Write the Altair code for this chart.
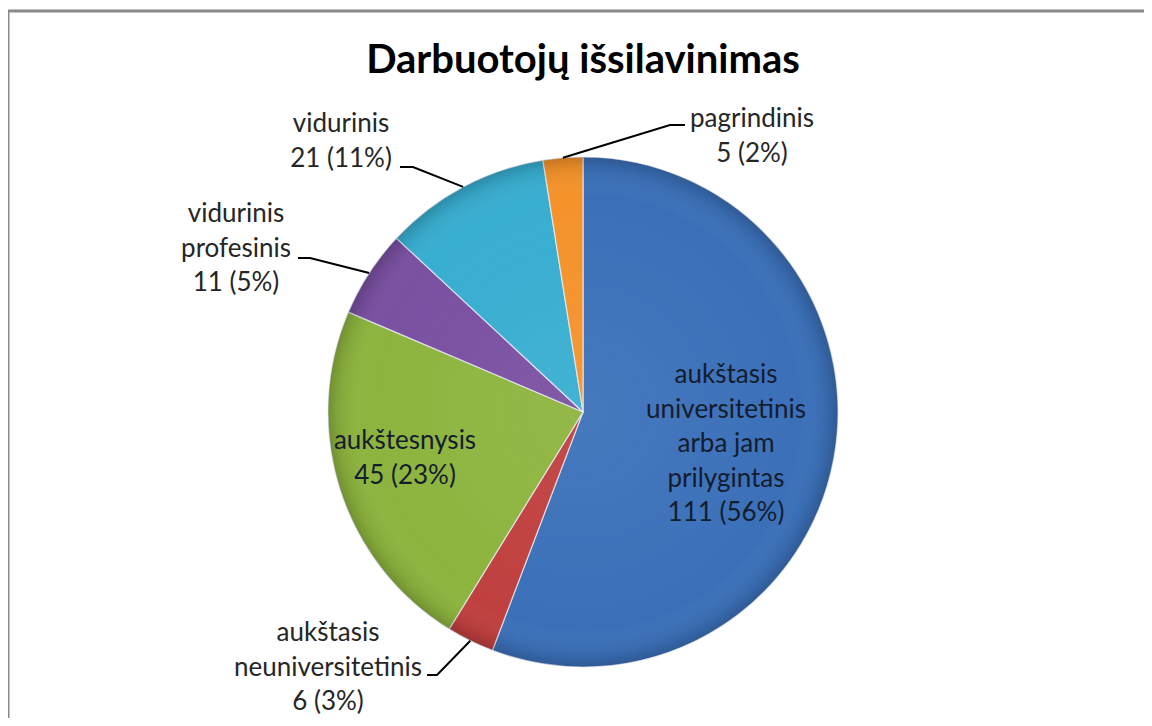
import math
import altair as alt
import pandas as pd

# ---------------- data ----------------
TITLE = "Darbuotojų išsilavinimas"
categories = [
    "aukštasis universitetinis arba jam prilygintas",
    "aukštasis neuniversitetinis",
    "aukštesnysis",
    "vidurinis profesinis",
    "vidurinis",
    "pagrindinis",
]
label_names = [
    "aukštasis\nuniversitetinis\narba jam\nprilygintas",
    "aukštasis\nneuniversitetinis",
    "aukštesnysis",
    "vidurinis\nprofesinis",
    "vidurinis",
    "pagrindinis",
]
values = [111, 6, 45, 11, 21, 5]
percents = ["56%", "3%", "23%", "5%", "11%", "2%"]
colors = ["#3b70b9", "#c0403f", "#8db43e", "#7a50a2", "#38aed1", "#f5922a"]

# ---------------- layout ----------------
W, H = 1136, 710
CX, CY, R = 575, 404, 255
FONT = "Lato"
# label anchor: centre x, baseline y of first line (chart pixels)
label_xy = [(718, 375), (320, 633), (397, 441), (228, 214), (333, 124), (744, 119)]
inside = [True, False, True, False, False, False]
# leader elbow: (x at label, x at elbow, y)
elbows = [None, (419, 429, 667), None, (290, 302, 250), (392, 405, 159), (677, 662, 117)]

total = sum(values)
cum = 0
mids = []
for v in values:
    mids.append((cum + v / 2) / total * 2 * math.pi)
    cum += v

slices = pd.DataFrame({
    "category": categories,
    "value": values,
    "order": list(range(len(values))),
})

labels = pd.DataFrame({
    "label": [f"{n}\n{v} ({p})" for n, v, p in zip(label_names, values, percents)],
    "x": [p[0] for p in label_xy],
    "y": [p[1] for p in label_xy],
    "tc": ["#141d2e" if i else "#262626" for i in inside],
})

rows = []
for i, e in enumerate(elbows):
    if e is None:
        continue
    a = mids[i]
    px = CX + R * math.sin(a)
    py = CY - R * math.cos(a)
    rows += [
        {"cat": categories[i], "o": 0, "x": e[0], "y": e[2]},
        {"cat": categories[i], "o": 1, "x": e[1], "y": e[2]},
        {"cat": categories[i], "o": 2, "x": px, "y": py},
    ]
leaders = pd.DataFrame(rows)

xs = alt.Scale(domain=[0, W], nice=False, zero=False)
ys = alt.Scale(domain=[0, H], reverse=True, nice=False, zero=False)

border = alt.Chart(pd.DataFrame({"a": [0]})).mark_rect(
    fill="white", stroke="#8a8a8a", strokeWidth=3
).encode(x=alt.value(0), x2=alt.value(1400), y=alt.value(3), y2=alt.value(1400))

pie = alt.Chart(slices).mark_arc(
    radius=R, stroke="#e8eef7", strokeWidth=1.2, strokeOpacity=0.8
).encode(
    theta=alt.Theta("value:Q", stack=True),
    order=alt.Order("order:Q"),
    color=alt.Color("category:N", scale=alt.Scale(domain=categories, range=colors), legend=None),
    x=alt.value(CX),
    y=alt.value(CY),
)

shade = alt.Chart(pd.DataFrame({"a": [0]})).mark_arc(
    radius=R,
    fill=alt.Gradient(
        gradient="radial",
        x1=0.5, y1=0.5, r1=0, x2=0.5, y2=0.5, r2=0.5,
        stops=[
            alt.GradientStop(offset=0, color="rgba(255,255,255,0.06)"),
            alt.GradientStop(offset=0.85, color="rgba(255,255,255,0)"),
            alt.GradientStop(offset=0.96, color="rgba(0,0,0,0.08)"),
            alt.GradientStop(offset=1, color="rgba(0,0,0,0.2)"),
        ],
    ),
).encode(theta=alt.value(0), theta2=alt.value(2 * math.pi), x=alt.value(CX), y=alt.value(CY))

lines = alt.Chart(leaders).mark_line(color="#000000", strokeWidth=2).encode(
    x=alt.X("x:Q", scale=xs, axis=None),
    y=alt.Y("y:Q", scale=ys, axis=None),
    detail="cat:N",
    order="o:Q",
)

texts = alt.Chart(labels).mark_text(
    font=FONT, fontSize=26, lineBreak="\n", lineHeight=34.5, align="center", baseline="alphabetic"
).encode(
    x=alt.X("x:Q", scale=xs, axis=None),
    y=alt.Y("y:Q", scale=ys, axis=None),
    text="label:N",
    color=alt.Color("tc:N", scale=None),
)

title = alt.Chart(pd.DataFrame({"t": [TITLE]})).mark_text(
    font=FONT, fontSize=40, fontWeight="bold", color="#000000", align="center", baseline="alphabetic"
).encode(x=alt.value(CX), y=alt.value(65), text="t:N")

chart = alt.layer(border, pie, shade, lines, texts, title).properties(
    width=W, height=H, autosize=alt.AutoSizeParams(type="none"), padding=0
).configure_view(stroke=None)

chart.save("out.html", embed_options={"renderer": "svg", "actions": False})
